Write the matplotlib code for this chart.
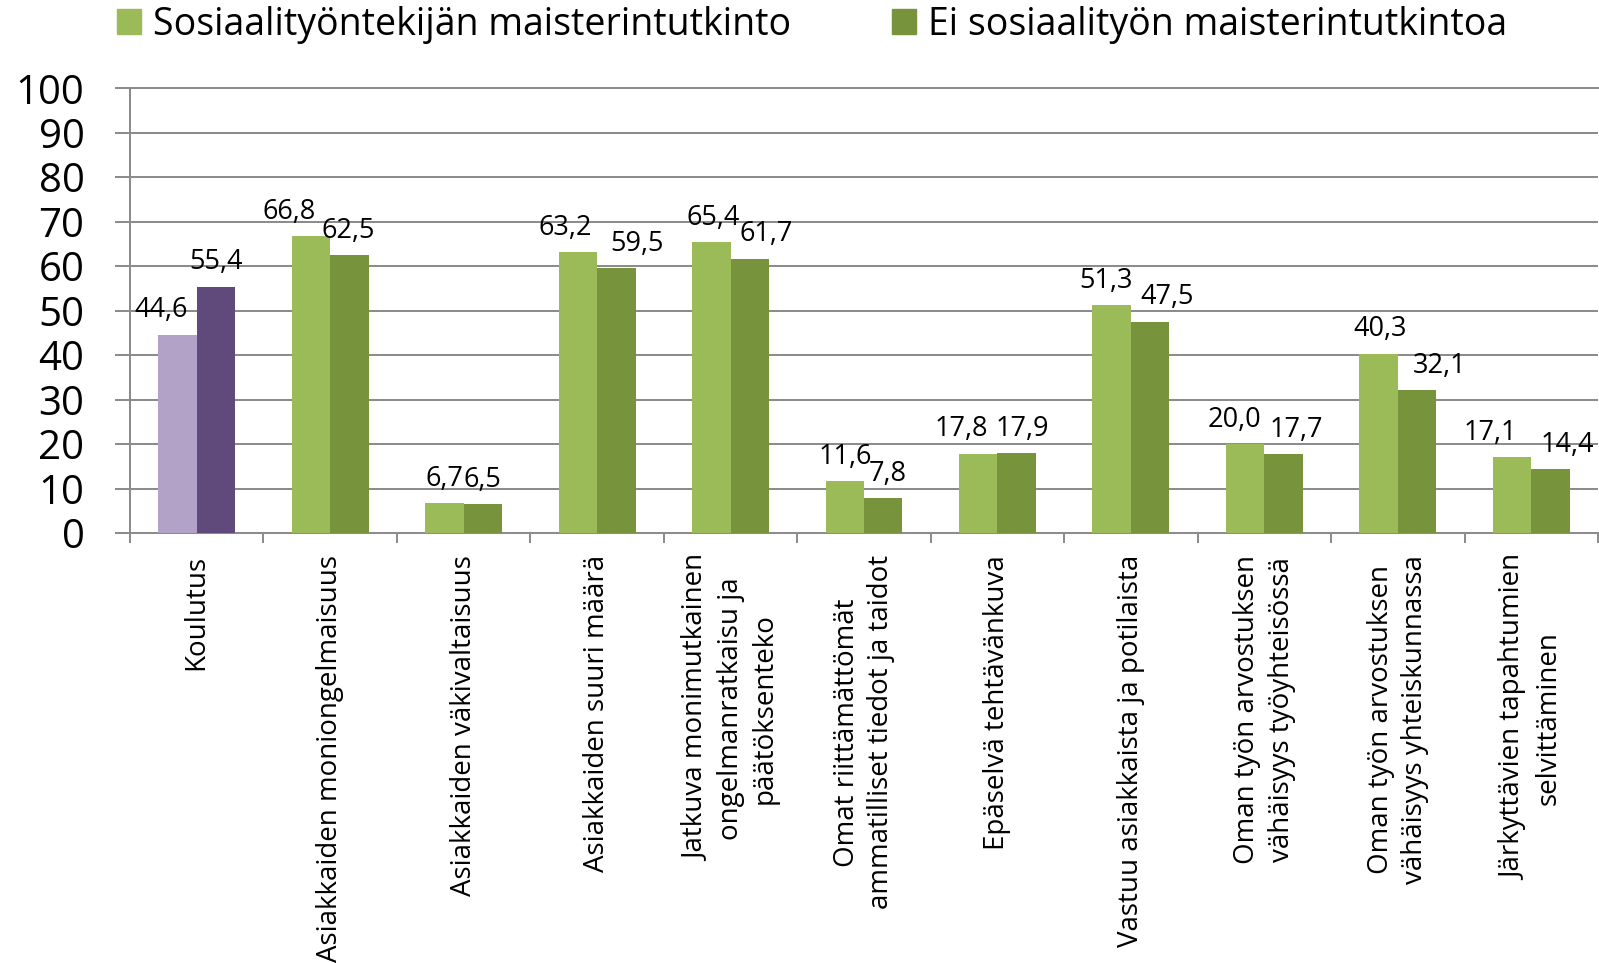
import numpy as np
import matplotlib
matplotlib.use('Agg')
import matplotlib.pyplot as plt
import matplotlib.patches as mpatches

plt.rcParams['font.family'] = ['Open Sans', 'DejaVu Sans']

# -- data --
CATEGORIES = [
    'Koulutus',
    'Asiakkaiden moniongelmaisuus',
    'Asiakkaiden väkivaltaisuus',
    'Asiakkaiden suuri määrä',
    'Jatkuva monimutkainen\nongelmanratkaisu ja\npäätöksenteko',
    'Omat riittämättömät\nammatilliset tiedot ja taidot',
    'Epäselvä tehtävänkuva',
    'Vastuu asiakkaista ja potilaista',
    'Oman työn arvostuksen\nvähäisyys työyhteisössä',
    'Oman työn arvostuksen\nvähäisyys yhteiskunnassa',
    'Järkyttävien tapahtumien\nselvittäminen',
]
SERIES_NAMES = ['Sosiaalityöntekijän maisterintutkinto', 'Ei sosiaalityön maisterintutkintoa']
MASTER = [44.6, 66.8, 6.7, 63.2, 65.4, 11.6, 17.8, 51.3, 20.0, 40.3, 17.1]
NO_MASTER = [55.4, 62.5, 6.5, 59.5, 61.7, 7.8, 17.9, 47.5, 17.7, 32.1, 14.4]
Y_TICKS = [0, 10, 20, 30, 40, 50, 60, 70, 80, 90, 100]

# -- style --
GREEN_LIGHT = '#9BBB59'
GREEN_DARK = '#77933C'
PURPLE_LIGHT = '#B3A2C7'
PURPLE_DARK = '#604A7B'
GRID = '#8C8C8C'
HIGHLIGHT_IDX = 0          # first group drawn in purple
BAR_W = 0.288
LW = 1.45

# horizontal nudges of the value labels (points), as placed in the original
NUDGE_1 = [-12, -16, 0, -9, 1, 0, -12, -4, -8, 1, -16]
NUDGE_2 = [0, -1, 0, 15, 12, 3, 4, 12, 9, 16, 12]


def fmt(v):
    return f'{v:.1f}'.replace('.', ',')


fig = plt.figure(figsize=(15.99, 9.63), dpi=100)
ax = fig.add_axes([130 / 1599, 1 - 533 / 963, (1598 - 130) / 1599, (533 - 88.3) / 963])

n = len(CATEGORIES)
x = np.arange(n)
c1 = [PURPLE_LIGHT if i == HIGHLIGHT_IDX else GREEN_LIGHT for i in range(n)]
c2 = [PURPLE_DARK if i == HIGHLIGHT_IDX else GREEN_DARK for i in range(n)]

b1 = ax.bar(x - BAR_W / 2, MASTER, BAR_W, color=c1, edgecolor='none', zorder=3)
b2 = ax.bar(x + BAR_W / 2, NO_MASTER, BAR_W, color=c2, edgecolor='none', zorder=3)

for bars, vals, nud in ((b1, MASTER, NUDGE_1), (b2, NO_MASTER, NUDGE_2)):
    for rect, v, dx in zip(bars, vals, nud):
        ax.annotate(fmt(v), (rect.get_x() + rect.get_width() / 2, v),
                    xytext=(dx, 12.5), textcoords='offset points',
                    ha='center', va='baseline', fontsize=19.5, color='black', zorder=4)

ax.set_xlim(-0.5, n - 0.5)
ax.set_ylim(0, 100)

# y axis
ax.set_yticks(Y_TICKS)
ax.tick_params(axis='y', which='major', direction='out', length=10.8, width=LW,
               color=GRID, labelsize=29, pad=22)
ax.yaxis.grid(True, color=GRID, linewidth=LW, zorder=0)
ax.set_axisbelow(True)

# x axis: ticks on category boundaries, labels centred
ax.set_xticks(np.arange(-0.5, n, 1.0))
ax.set_xticklabels([])
ax.tick_params(axis='x', which='major', direction='out', length=7, width=LW, color=GRID)
ax.set_xticks(x, minor=True)
ax.set_xticklabels(CATEGORIES, minor=True, rotation=90, ha='center', va='top',
                   multialignment='center', fontsize=20, linespacing=1.3)
ax.tick_params(axis='x', which='minor', length=0, pad=16)

for side in ('left', 'bottom', 'top'):
    ax.spines[side].set_color(GRID)
    ax.spines[side].set_linewidth(LW)
ax.spines['right'].set_visible(False)

handles = [mpatches.Patch(color=GREEN_LIGHT, label=SERIES_NAMES[0]),
           mpatches.Patch(color=GREEN_DARK, label=SERIES_NAMES[1])]
fig.legend(handles=handles, loc='center left', bbox_to_anchor=(117 / 1599, 1 - 25 / 963),
           ncol=2, frameon=False, fontsize=27, handlelength=0.64, handleheight=0.64,
           handletextpad=0.32, columnspacing=2.7, borderpad=0, borderaxespad=0)

fig.savefig('out.png', dpi=100)
